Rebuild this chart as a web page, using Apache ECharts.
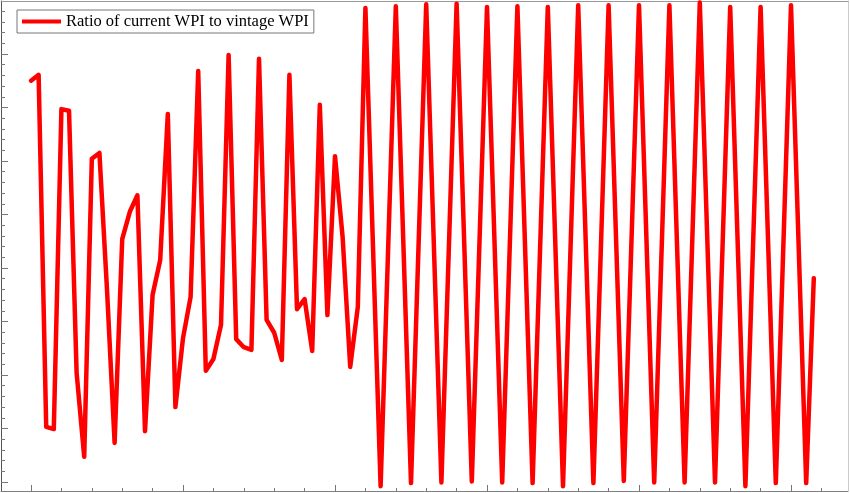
<!DOCTYPE html>
<html>
<head>
<meta charset="utf-8">
<script src="https://cdn.jsdelivr.net/npm/echarts@6/dist/echarts.min.js"></script>
<style>
html,body{margin:0;padding:0;background:#fff;}
#chart{width:850px;height:493px;}
</style>
</head>
<body>
<div id="chart"></div>
<script>
// x positions (observation index) of each vertex of the line
var xIndex = [0,1,2,3,4,5,6,7,8,9,10,11,12,13,14,15,16,17,18,19,20,
  21,22,23,24,25,26,27,28,29,30,31,32,33,34,35,36,37,38,39,40,41,42,43,44,
  46,48,50,52,54,56,58,60,62,64,66,68,70,72,74,76,78,80,82,84,86,88,90,92,94,96,98,100,102,103];
// ratio values (arbitrary units: one major y tick = 1)
var ratio = [7.50,7.61,1.03,0.99,6.97,6.94,2.04,0.47,6.04,6.15,3.59,0.73,4.54,5.05,5.36,0.95,3.50,4.15,6.88,1.40,2.69,
  3.46,7.68,2.08,2.30,2.94,7.98,2.67,2.52,2.47,7.91,3.03,2.79,2.28,7.61,3.23,3.42,2.45,7.05,3.12,6.09,4.58,2.15,3.27,8.86,
  -0.08,8.89,-0.02,8.93,-0.01,8.94,0.01,8.88,-0.01,8.89,-0.02,8.88,-0.08,8.91,-0.02,8.91,0.02,8.91,-0.01,8.91,-0.01,8.96,-0.01,8.88,-0.08,8.88,-0.02,8.91,-0.02,3.81];
var seriesName = 'Ratio of current WPI to vintage WPI';
var xMajorTicks = [0,20,40,60,80,100];
var xMinorTicks = [-4,0,4,8,12,16,20,24,28,32,36,40,44,48,52,56,60,64,68,72,76,80,84,88,92,96,100,104];
var yMajorTicks = [0,1,2,3,4,5,6,7,8];
var yMinorTicks = [];
for (var k = 0; k <= 44; k++) yMinorTicks.push(+(k * 0.2).toFixed(1));

var points = xIndex.map(function (x, i) { return [x, ratio[i]]; });

var xMin = -3.95, xMax = 107.5, yMin = -0.168, yMax = 8.99;
function xAx(pos, ticks, len, lineColor, showLine) {
  return {
    type: 'value', position: pos, min: xMin, max: xMax,
    axisLine: { show: showLine, onZero: false, lineStyle: { color: lineColor, width: 1 } },
    axisTick: { show: ticks.length > 0, inside: true, length: len, customValues: ticks, lineStyle: { color: '#777' } },
    axisLabel: { show: false }, splitLine: { show: false }
  };
}
function yAx(pos, ticks, len, lineColor, showLine) {
  return {
    type: 'value', position: pos, min: yMin, max: yMax,
    axisLine: { show: showLine, onZero: false, lineStyle: { color: lineColor, width: 1 } },
    axisTick: { show: ticks.length > 0, inside: true, length: len, customValues: ticks, lineStyle: { color: '#777' } },
    axisLabel: { show: false }, splitLine: { show: false }
  };
}

var chart = echarts.init(document.getElementById('chart'), null, { renderer: 'canvas' });
chart.setOption({
  animation: false,
  backgroundColor: '#fff',
  grid: { left: 1, top: 1, right: 2, bottom: 2, containLabel: false },
  legend: {
    show: true, left: 17, top: 10, orient: 'horizontal',
    padding: [3, 5, 3, 5], borderColor: '#777', borderWidth: 1, backgroundColor: '#fff',
    itemWidth: 39, itemHeight: 4, icon: 'rect',
    textStyle: { fontFamily: 'Liberation Serif', fontSize: 16.5, color: '#000' },
    data: [seriesName]
  },
  xAxis: [
    xAx('bottom', xMajorTicks, 6, '#808080', true),
    xAx('bottom', xMinorTicks, 3, '#808080', false),
    xAx('top', [], 0, '#9a9a9a', true)
  ],
  yAxis: [
    yAx('left', yMajorTicks, 7, '#555', true),
    yAx('left', yMinorTicks, 4, '#555', false),
    yAx('right', [], 0, '#cccccc', true)
  ],
  series: [{
    name: seriesName, type: 'line', xAxisIndex: 0, yAxisIndex: 0,
    data: points, symbol: 'none', clip: false,
    lineStyle: { color: '#ff0000', width: 4.5, join: 'round', cap: 'round' },
    itemStyle: { color: '#ff0000' }
  }]
});
</script>
</body>
</html>
